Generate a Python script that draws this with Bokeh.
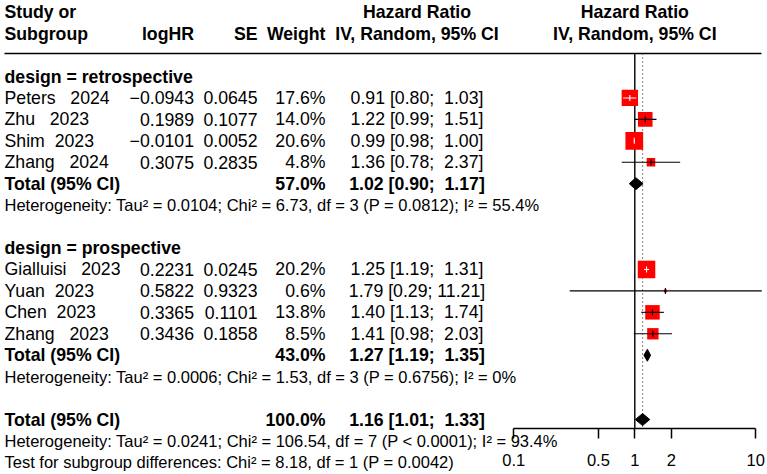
import math
from bokeh.plotting import figure
from bokeh.models import (ColumnDataSource, Range1d, LogScale, LogAxis, FixedTicker,
                          CustomJSTickFormatter)
from bokeh.core.properties import value
from bokeh.embed import file_html
from bokeh.resources import INLINE

# ---------------- data ----------------
studies = ["Peters   2024", "Zhu   2023", "Shim  2023", "Zhang   2024",
           "Gialluisi   2023", "Yuan  2023", "Chen  2023", "Zhang   2023"]
design = ["retrospective"] * 4 + ["prospective"] * 4
log_hr = [-0.0943, 0.1989, -0.0101, 0.3075, 0.2231, 0.5822, 0.3365, 0.3436]
se = [0.0645, 0.1077, 0.0052, 0.2835, 0.0245, 0.9323, 0.1101, 0.1858]
weight = [17.6, 14.0, 20.6, 4.8, 20.2, 0.6, 13.8, 8.5]
hr = [0.91, 1.22, 0.99, 1.36, 1.25, 1.79, 1.40, 1.41]
hr_lo = [0.80, 0.99, 0.98, 0.78, 1.19, 0.29, 1.13, 0.98]
hr_hi = [1.03, 1.51, 1.00, 2.37, 1.31, 11.21, 1.74, 2.03]

subgroups = ["retrospective", "prospective"]
sub_weight = [57.0, 43.0]
sub_hr = [1.02, 1.27]
sub_lo = [0.90, 1.19]
sub_hi = [1.17, 1.35]
sub_tau2 = ["0.0104", "0.0006"]
sub_chi2 = ["6.73", "1.53"]
sub_df = [3, 3]
sub_p = ["= 0.0812", "= 0.6756"]
sub_i2 = ["55.4%", "0%"]

overall_weight = 100.0
overall_hr = 1.16
overall_lo = 1.01
overall_hi = 1.33
overall_tau2 = "0.0241"
overall_chi2 = "106.54"
overall_df = 7
overall_p = "< 0.0001"
overall_i2 = "93.4%"

test_chi2 = "8.18"
test_df = 1
test_p = "= 0.0042"

axis_ticks = [0.1, 0.5, 1, 2, 10]

# ---------------- layout ----------------
W, H = 767, 474
ROW0_PX, PITCH = 76.0, 21.44
X_ONE, DEC = 634.3, 121.0
FONT = "Liberation Sans"
FS = "17.7px"
FS_HET = "16.5px"
X_STUDY, X_LOGHR, X_SE, X_W, X_CI = 4, 193.5, 257, 325, 416.5
HEAD_LINE_ROW = (53 - ROW0_PX) / PITCH
AXIS_ROW = (428 - ROW0_PX) / PITCH

p = figure(width=W, height=H, output_backend="svg", toolbar_location=None,
           x_axis_location=None, y_axis_location=None, min_border=0,
           x_range=Range1d(0, W),
           y_range=Range1d((H - ROW0_PX) / PITCH, -ROW0_PX / PITCH))
p.outline_line_color = None
p.grid.visible = False
p.background_fill_color = "white"
p.border_fill_color = "white"
p.extra_x_ranges = {"hr": Range1d(10 ** ((0 - X_ONE) / DEC), 10 ** ((W - X_ONE) / DEC))}
p.extra_x_scales = {"hr": LogScale()}


def nb(s):
    return s.replace(" ", "\u00a0")


def fmt_ci(h, lo, hi):
    return nb(f"{h:.2f} [{lo:.2f};{hi:>6.2f}]")


def fmt_num(v):
    return f"{v:.4f}".replace("-", "\u2212")


texts = {}


def add(key, x, y, t):
    texts.setdefault(key, {"x": [], "y": [], "t": []})
    texts[key]["x"].append(x)
    texts[key]["y"].append(y)
    texts[key]["t"].append(t)


# header
add(("left", "bold", FS, "default"), X_STUDY, -3, "Study or")
add(("left", "bold", FS, "default"), X_STUDY, -2, "Subgroup")
add(("right", "bold", FS, "default"), X_LOGHR, -2, "logHR")
add(("right", "bold", FS, "default"), X_SE, -2, "SE")
add(("right", "bold", FS, "default"), X_W, -2, "Weight")
add(("center", "bold", FS, "default"), X_CI, -3, "Hazard Ratio")
add(("center", "bold", FS, "default"), X_CI, -2, "IV, Random, 95% CI")
add(("center", "bold", FS, "hr"), 1, -3, "Hazard Ratio")
add(("center", "bold", FS, "hr"), 1, -2, "IV, Random, 95% CI")

st_rows = []
sub_rows = []
row = 0
for g, grp in enumerate(subgroups):
    add(("left", "bold", FS, "default"), X_STUDY, row, nb(f"design = {grp}"))
    row += 1
    for i in range(len(studies)):
        if design[i] != grp:
            continue
        st_rows.append(row)
        add(("left", "normal", FS, "default"), X_STUDY, row, nb(studies[i]))
        add(("right", "normal", FS, "default"), X_LOGHR, row, fmt_num(log_hr[i]))
        add(("right", "normal", FS, "default"), X_SE, row, fmt_num(se[i]))
        add(("right", "normal", FS, "default"), X_W, row, f"{weight[i]:.1f}%")
        add(("center", "normal", FS, "default"), X_CI, row, fmt_ci(hr[i], hr_lo[i], hr_hi[i]))
        row += 1
    sub_rows.append(row)
    add(("left", "bold", FS, "default"), X_STUDY, row, "Total (95% CI)")
    add(("right", "bold", FS, "default"), X_W, row, f"{sub_weight[g]:.1f}%")
    add(("center", "bold", FS, "default"), X_CI, row, fmt_ci(sub_hr[g], sub_lo[g], sub_hi[g]))
    row += 1
    add(("left", "normal", FS_HET, "default"), X_STUDY, row,
        f"Heterogeneity: Tau\u00b2 = {sub_tau2[g]}; Chi\u00b2 = {sub_chi2[g]}, df = {sub_df[g]} "
        f"(P {sub_p[g]}); I\u00b2 = {sub_i2[g]}")
    row += 2

overall_row = row
add(("left", "bold", FS, "default"), X_STUDY, row, "Total (95% CI)")
add(("right", "bold", FS, "default"), X_W, row, f"{overall_weight:.1f}%")
add(("center", "bold", FS, "default"), X_CI, row, fmt_ci(overall_hr, overall_lo, overall_hi))
row += 1
add(("left", "normal", FS_HET, "default"), X_STUDY, row,
    f"Heterogeneity: Tau\u00b2 = {overall_tau2}; Chi\u00b2 = {overall_chi2}, df = {overall_df} "
    f"(P {overall_p}); I\u00b2 = {overall_i2}")
row += 1
add(("left", "normal", FS_HET, "default"), X_STUDY, row,
    f"Test for subgroup differences: Chi\u00b2 = {test_chi2}, df = {test_df} (P {test_p})")

# ---------------- lines ----------------
p.segment(x0=[X_STUDY], x1=[761], y0=[HEAD_LINE_ROW], y1=[HEAD_LINE_ROW],
          line_color="black", line_width=1.6)
p.segment(x0=[1], x1=[1], y0=[HEAD_LINE_ROW], y1=[AXIS_ROW], x_range_name="hr",
          line_color="black", line_width=1.4)
p.segment(x0=[overall_hr], x1=[overall_hr], y0=[HEAD_LINE_ROW], y1=[AXIS_ROW],
          x_range_name="hr", line_color="#222222", line_width=1.1, line_dash="1 3")

# squares
sizes = [3.9 * math.sqrt(w) for w in weight]
p.scatter(x=hr, y=st_rows, size=sizes, marker="square", fill_color="#ff0000",
          line_color=None, x_range_name="hr")

# CI lines
ci_col = []
for i in range(len(hr)):
    half = sizes[i] / 2 / DEC
    c = math.log10(hr[i])
    inside = math.log10(hr_lo[i]) >= c - half and math.log10(hr_hi[i]) <= c + half
    ci_col.append("white" if inside else "black")
ci_src = ColumnDataSource(dict(lo=hr_lo, hi=hr_hi, hr=hr, y=st_rows,
                               y0=[r - 0.14 for r in st_rows], y1=[r + 0.14 for r in st_rows],
                               c=ci_col))
p.segment(x0="lo", x1="hi", y0="y", y1="y", source=ci_src, line_color="c",
          line_width=1.1, x_range_name="hr")
p.segment(x0="hr", x1="hr", y0="y0", y1="y1", source=ci_src, line_color="c",
          line_width=1.1, x_range_name="hr")

# diamonds
DH = 0.28
d_hr = sub_hr + [overall_hr]
d_lo = sub_lo + [overall_lo]
d_hi = sub_hi + [overall_hi]
d_rows = sub_rows + [overall_row]
xs = [[d_lo[k], d_hr[k], d_hi[k], d_hr[k]] for k in range(len(d_hr))]
ys = [[d_rows[k], d_rows[k] - DH, d_rows[k], d_rows[k] + DH] for k in range(len(d_hr))]
p.patches(xs=xs, ys=ys, fill_color="black", line_color="black", line_width=1,
          x_range_name="hr")

# texts
for (align, style, size, rng), d in texts.items():
    p.text(x=d["x"], y=d["y"], text=d["t"], text_align=align, text_baseline="middle",
           text_font=value(FONT), text_font_style=style, text_font_size=size,
           text_color="black", x_range_name=rng)

# axis
ax = LogAxis(x_range_name="hr", ticker=FixedTicker(ticks=axis_ticks),
             bounds=(axis_ticks[0], axis_ticks[-1]), fixed_location=AXIS_ROW,
             formatter=CustomJSTickFormatter(code="return String(tick)"))
ax.axis_line_color = "black"
ax.axis_line_width = 1.5
ax.major_tick_line_color = "black"
ax.major_tick_line_width = 1.5
ax.major_tick_in = 0
ax.major_tick_out = 10
ax.minor_tick_line_color = None
ax.major_label_text_font = FONT
ax.major_label_text_font_size = "16.5px"
ax.major_label_text_color = "black"
ax.major_label_standoff = 15
p.add_layout(ax, "below")

open("out.html", "w").write(file_html(p, INLINE))
